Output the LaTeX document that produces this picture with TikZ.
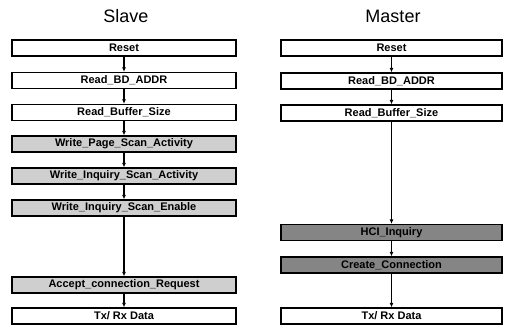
\documentclass[tikz,border=0pt]{standalone}
\usepackage{fontspec}
\setmainfont{Liberation Sans}
\usetikzlibrary{arrows.meta}
\definecolor{lightbox}{HTML}{CFCFCF}
\definecolor{darkbox}{HTML}{858585}
\begin{document}
\begin{tikzpicture}[x=1pt,y=-1pt,
  cmdbox/.style={draw=black, line width=1.3pt, rectangle, minimum height=16pt, inner sep=0pt,
    font=\fontsize{11}{12}\selectfont\bfseries, fill=white},
  sbox/.style={cmdbox, minimum width=224pt},
  mbox/.style={cmdbox, minimum width=221pt},
  lightfill/.style={fill=lightbox},
  darkfill/.style={fill=darkbox},
  title/.style={font=\fontsize{18}{20}\selectfont},
  flow/.style={draw=black, line width=1.3pt, -{Latex[length=4.5pt,width=4pt]}}
]
\useasboundingbox (0,0) rectangle (507,328);
% titles
\node[title] (ts) at (126,16) {Slave};
\node[title] (tm) at (393,16) {Master};
% slave column
\node[sbox] (s1) at (124,48) {Reset};
\node[sbox] (s2) at (124,80.5) {Read\_BD\_ADDR};
\node[sbox] (s3) at (124,112.5) {Read\_Buffer\_Size};
\node[sbox,lightfill] (s4) at (124,144) {Write\_Page\_Scan\_Activity};
\node[sbox,lightfill] (s5) at (124,176) {Write\_Inquiry\_Scan\_Activity};
\node[sbox,lightfill] (s6) at (124,208) {Write\_Inquiry\_Scan\_Enable};
\node[sbox,lightfill] (s7) at (124,285) {Accept\_connection\_Request};
\node[sbox] (s8) at (124,316) {Tx/ Rx Data};
% master column
\node[mbox] (m1) at (391.5,48) {Reset};
\node[mbox] (m2) at (391.5,81) {Read\_BD\_ADDR};
\node[mbox] (m3) at (391.5,113) {Read\_Buffer\_Size};
\node[mbox,darkfill] (m4) at (391.5,232.5) {HCI\_Inquiry};
\node[mbox,darkfill] (m5) at (391.5,265) {Create\_Connection};
\node[mbox] (m6) at (391.5,316) {Tx/ Rx Data};
% connectors
\foreach \a/\b in {s1/s2,s2/s3,s3/s4,s4/s5,s5/s6,s6/s7,s7/s8,m1/m2,m2/m3,m3/m4,m4/m5,m5/m6}
  \draw[flow] (\a.south) -- (\b.north);
\end{tikzpicture}
\end{document}
